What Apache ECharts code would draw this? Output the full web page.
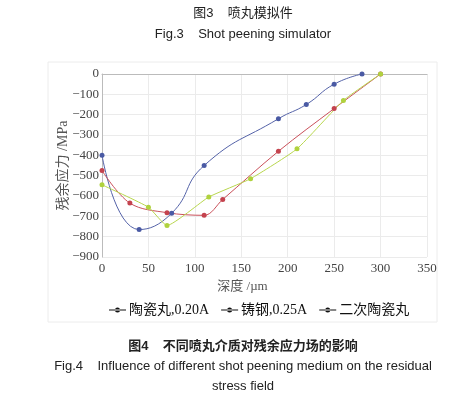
<!DOCTYPE html>
<html>
<head>
<meta charset="utf-8">
<title>残余应力场</title>
<script src="https://cdn.jsdelivr.net/npm/echarts@6/dist/echarts.min.js"></script>
<style>
  html, body { margin: 0; padding: 0; background: #fff; }
  #chart { width: 460px; height: 398px; }
</style>
</head>
<body>
<div id="chart"></div>
<script>
// 深度 (µm) / 残余应力 (MPa)，读自原图
var blueDepth = [0, 40, 75, 110, 190, 220, 250, 280];
var blueStress = [-400, -765, -685, -450, -220, -150, -50, 0];

var redDepth = [0, 30, 70, 110, 130, 190, 250, 300];
var redStress = [-475, -635, -682, -695, -617, -380, -170, 0];

var greenDepth = [0, 50, 70, 115, 160, 210, 260, 300];
var greenStress = [-545, -655, -745, -605, -515, -368, -130, 0];

var seriesNames = ['陶瓷丸,0.20A', '铸钢,0.25A', '二次陶瓷丸'];

function pairs(xs, ys) {
  var out = [];
  for (var i = 0; i < xs.length; i++) out.push([xs[i], ys[i]]);
  return out;
}

var chart = echarts.init(document.getElementById('chart'));
var serif = '"Liberation Serif", "Noto Sans CJK SC", serif';
var sans = '"Liberation Sans", "Noto Sans CJK SC", sans-serif';

// 图题文字，居中于 x=243
function caption(text, y, bold) {
  return {
    type: 'text', x: 243, y: y, silent: true,
    style: {
      text: text, align: 'center', verticalAlign: 'top',
      fontFamily: sans, fontSize: 13, fontWeight: bold ? 'bold' : 'normal', fill: '#222'
    }
  };
}

var option = {
  animation: false,
  graphic: [
    caption('图3    喷丸模拟件', 7),
    caption('Fig.3    Shot peening simulator', 28),
    caption('图4    不同喷丸介质对残余应力场的影响', 340, true),
    caption('Fig.4    Influence of different shot peening medium on the residual', 360),
    caption('stress field', 380),
    {
      type: 'rect',
      shape: { x: 48, y: 62, width: 389, height: 260 },
      style: { fill: 'none', stroke: '#ececec', lineWidth: 1 },
      silent: true
    }
  ],
  legend: {
    data: seriesNames,
    left: 109,
    top: 303,
    padding: 0,
    itemWidth: 17,
    itemHeight: 6,
    itemGap: 12,
    icon: 'path://M0,2.6 L17,2.6 L17,3.4 L0,3.4 Z M6,3 A2.5,2.5 0 1 0 11,3 A2.5,2.5 0 1 0 6,3 Z',
    itemStyle: { color: '#111', borderWidth: 0 },
    lineStyle: { color: '#111' },
    textStyle: { fontFamily: serif, fontSize: 14, color: '#111', padding: [0, 0, 0, -2] }
  },
  grid: { left: 102, right: 33, top: 74, bottom: 141 },
  xAxis: {
    type: 'value',
    min: 0, max: 350, interval: 50,
    name: '深度 /µm',
    nameLocation: 'middle',
    nameGap: 23,
    nameTextStyle: { fontFamily: serif, fontSize: 13, color: '#555', padding: [0, 44, 0, 0] },
    axisLine: { show: true, lineStyle: { color: '#bbb' } },
    axisTick: { show: false },
    axisLabel: { fontFamily: serif, fontSize: 13, color: '#444', margin: 5 },
    splitLine: { show: true, lineStyle: { color: '#ebebeb' } }
  },
  yAxis: {
    type: 'value',
    min: -900, max: 0, interval: 100,
    name: '残余应力 /MPa',
    nameLocation: 'middle',
    nameGap: 32,
    nameMoveOverlap: false,
    nameRotate: 90,
    nameTextStyle: { fontFamily: serif, fontSize: 14, color: '#555' },
    axisLine: { show: true, lineStyle: { color: '#bbb' } },
    axisTick: { show: false },
    axisLabel: {
      fontFamily: serif, fontSize: 13, color: '#444', margin: 3,
      formatter: function (v) { return v < 0 ? '\u2212' + Math.abs(v) : String(v); }
    },
    splitLine: { show: true, lineStyle: { color: '#ebebeb' } }
  },
  series: [
    {
      name: seriesNames[0], type: 'line', smooth: 0.5,
      data: pairs(blueDepth, blueStress),
      symbol: 'circle', symbolSize: 5,
      lineStyle: { color: '#5563a8', width: 1 },
      itemStyle: { color: '#4a5aa4' }
    },
    {
      name: seriesNames[1], type: 'line', smooth: 0.35,
      data: pairs(redDepth, redStress),
      symbol: 'circle', symbolSize: 5,
      lineStyle: { color: '#c9505a', width: 1 },
      itemStyle: { color: '#c4434e' }
    },
    {
      name: seriesNames[2], type: 'line', smooth: 0.15,
      data: pairs(greenDepth, greenStress),
      symbol: 'circle', symbolSize: 5,
      lineStyle: { color: '#b8d64e', width: 1 },
      itemStyle: { color: '#b0d23e' }
    }
  ]
};

chart.setOption(option);
</script>
</body>
</html>
